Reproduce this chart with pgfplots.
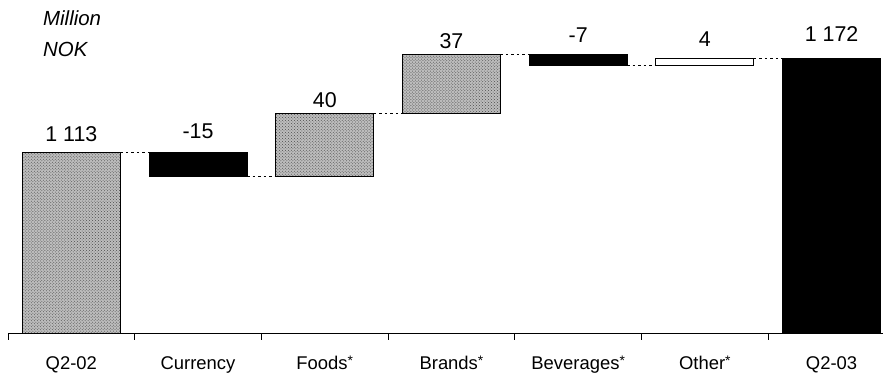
\documentclass[border=0pt]{standalone}
\usepackage{pgfplots}
\pgfplotsset{compat=1.18}
\usepackage{fontspec}
\setmainfont{Liberation Sans}
\usetikzlibrary{patterns}

% small raised star used in the segment names
\newcommand{\seg}{\raisebox{0.5ex}{\scalebox{0.75}{*}}}

% shared geometry for the two overlaid axes
\pgfplotsset{
  bridge frame/.style={
    at={(8bp,40bp)}, anchor=south west,
    scale only axis, width=875bp, height=333bp,
    xmin=-0.5, xmax=6.406, ymin=1000, ymax=1209,
  },
  grainy/.style={fill=black!26, draw=black, line width=1bp,
    postaction={pattern=crosshatch dots, pattern color=black!70}},
  connector/.style={black, no markers, line width=1bp, dash pattern=on 2.5bp off 3bp},
}

\begin{document}
\begin{tikzpicture}
\useasboundingbox (0,0) rectangle (883bp,373bp);

% bars of the bridge: invisible base + visible steps
\begin{axis}[
  bridge frame, clip=true,
  ybar stacked, bar width=0.774,
  axis y line=none, axis x line*=bottom,
  axis line style={black, line width=0.8bp},
  xtick={0,...,6},
  xticklabels={Q2-02, Currency, Foods\seg, Brands\seg, Beverages\seg, Other\seg, Q2-03},
  major tick length=0pt,
  xticklabel style={anchor=base, yshift=-37bp, font=\fontsize{18.5}{20}\selectfont},
  extra x ticks={-0.5,0.5,1.5,2.5,3.5,4.5,5.5},
  extra x tick labels={},
  extra x tick style={major tick length=7bp, tick align=outside,
    tick style={black, line width=0.8bp}},
]
\addplot[draw=none, fill=none] coordinates {(0,0) (1,1098) (2,1098) (3,1138) (4,1168) (5,1168) (6,0)};
\addplot[grainy] coordinates {(0,1113) (1,0) (2,40) (3,37) (4,0) (5,0) (6,0)};
\addplot[fill=black, draw=black, line width=1bp] coordinates {(0,0) (1,15) (2,0) (3,0) (4,7) (5,0) (6,1172)};
\addplot[fill=white, draw=black, line width=1bp] coordinates {(0,0) (1,0) (2,0) (3,0) (4,0) (5,4) (6,0)};
\end{axis}

% dotted connectors and value labels
\begin{axis}[bridge frame, clip=false, hide axis]
\addplot[connector] coordinates {(0.387,1113) (0.613,1113)};
\addplot[connector] coordinates {(1.387,1098) (1.613,1098)};
\addplot[connector] coordinates {(2.387,1138) (2.613,1138)};
\addplot[connector] coordinates {(3.387,1175) (3.613,1175)};
\addplot[connector] coordinates {(4.387,1168) (4.613,1168)};
\addplot[connector] coordinates {(5.387,1172) (5.613,1172)};
\begin{scope}[every node/.style={anchor=base, font=\fontsize{21.5}{23}\selectfont}]
\node[yshift=11bp] at (axis cs:0,1113) {1 113};
\node[yshift=14bp] at (axis cs:1,1113) {-15};
\node[yshift=6bp]  at (axis cs:2,1138) {40};
\node[yshift=6bp]  at (axis cs:3,1175) {37};
\node[yshift=12bp] at (axis cs:4,1175) {-7};
\node[yshift=12bp] at (axis cs:5,1172) {4};
\node[yshift=17bp] at (axis cs:6,1172) {1 172};
\end{scope}
\end{axis}

\node[anchor=base west, inner sep=0pt, font=\itshape\fontsize{20.5}{22}\selectfont] at (43bp,347bp) {Million};
\node[anchor=base west, inner sep=0pt, font=\itshape\fontsize{20.5}{22}\selectfont] at (43bp,316bp) {NOK};
\end{tikzpicture}
\end{document}
